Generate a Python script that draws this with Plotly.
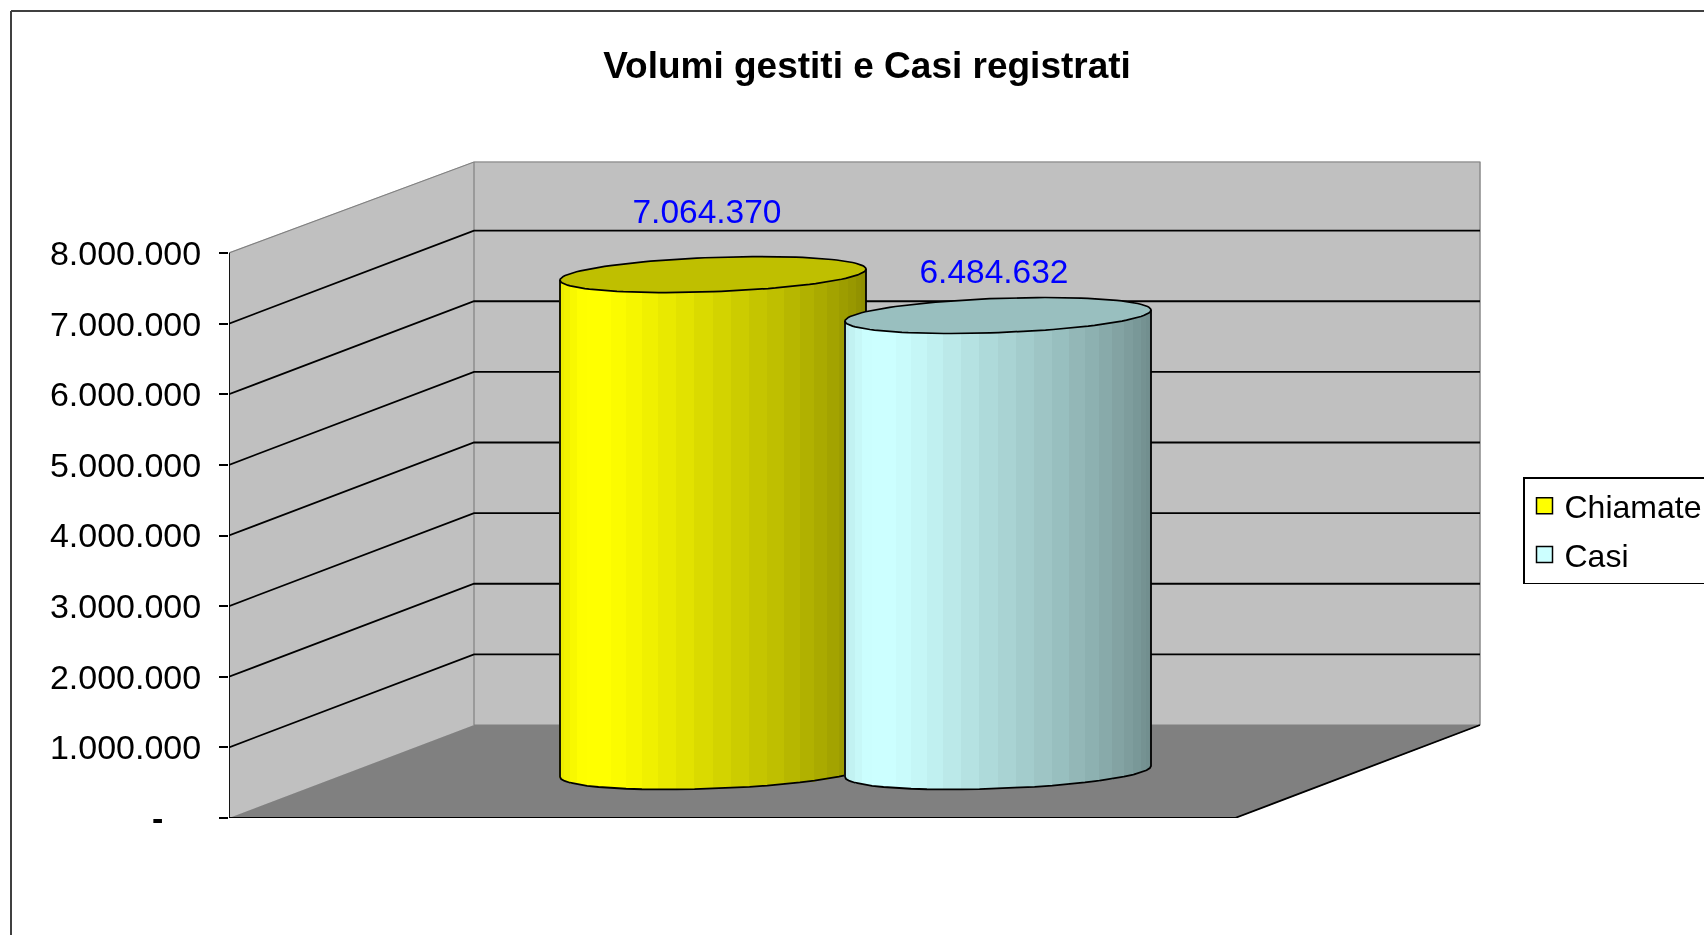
import numpy as np
import plotly.graph_objects as go

# ---- data ----
series_names = ["Chiamate", "Casi"]
series_values = [7064370, 6484632]
axis_ticks = [0, 1000000, 2000000, 3000000, 4000000, 5000000, 6000000, 7000000, 8000000]
chart_title = "Volumi gestiti e Casi registrati"

# ---- style / layout ----
series_colors = [(255, 255, 0), (204, 255, 255)]
FIG_W, FIG_H = 1704, 935
M_L, M_R, M_T, M_B = 229, 204, 150, 117
PLOT_W, PLOT_H = FIG_W - M_L - M_R, FIG_H - M_T - M_B
FONT = "Liberation Sans, Arial, sans-serif"
PX_PER_UNIT = 565 / 8000000
YMAX = PLOT_H / PX_PER_UNIT
DEPTH_X = 245
DEPTH_Y = 93 / PX_PER_UNIT
FLOOR_W = 1006
AX_MAX = axis_ticks[-1]
WALL_TOP_TRIM = 2 / PX_PER_UNIT
TOP_SHIFT = -2 / PX_PER_UNIT
CYL_CX = [484, 769]
CYL_U, CYL_VX = 145.6, 47
CYL_VY = 18 / PX_PER_UNIT
LABEL_DX = [-6, -4]
LABEL_DY = [814000, 544000]
N_STRIPS = 26
SHADE_T = [0, 0.04, 0.08, 0.16, 0.3, 0.5, 0.7, 0.85, 0.95, 1.0]
SHADE_F = [0.92, 0.97, 1.0, 1.0, 0.94, 0.84, 0.75, 0.67, 0.6, 0.55]
CAP_F = 0.75
INK = "#000000"


def rgb(c, f=1.0):
    return "rgb({},{},{})".format(*[int(round(v * f)) for v in c])


def fmt(v):
    return f"{v:,}".replace(",", ".")


def poly(xs, ys, fill, line=None, lw=1.0, z=0):
    return go.Scatter(x=xs, y=ys, mode="lines", fill="toself", fillcolor=fill,
                      line=dict(color=line or fill, width=lw), hoverinfo="skip",
                      showlegend=False, cliponaxis=False, zorder=z)


def path(xs, ys, color, lw, z=0):
    return go.Scatter(x=xs, y=ys, mode="lines", line=dict(color=color, width=lw),
                      hoverinfo="skip", showlegend=False, cliponaxis=False,
                      connectgaps=False, zorder=z)


fig = go.Figure()

WALL_TOP_BACK = AX_MAX + DEPTH_Y - WALL_TOP_TRIM

# walls and floor
fig.add_trace(poly([0, DEPTH_X, DEPTH_X, 0], [0, DEPTH_Y, WALL_TOP_BACK, AX_MAX], "#C0C0C0"))
fig.add_trace(poly([DEPTH_X, DEPTH_X + FLOOR_W, DEPTH_X + FLOOR_W, DEPTH_X],
                   [DEPTH_Y, DEPTH_Y, WALL_TOP_BACK, WALL_TOP_BACK], "#C0C0C0"))
fig.add_trace(poly([0, FLOOR_W, FLOOR_W + DEPTH_X, DEPTH_X], [0, 0, DEPTH_Y, DEPTH_Y], "#808080"))

# grey wall edges
fig.add_trace(path([0, DEPTH_X, DEPTH_X + FLOOR_W, DEPTH_X + FLOOR_W, None, DEPTH_X, DEPTH_X],
                   [AX_MAX, WALL_TOP_BACK, WALL_TOP_BACK, DEPTH_Y, None, WALL_TOP_BACK, DEPTH_Y],
                   "#808080", 1.2))

# gridlines
gx, gy = [], []
for t in axis_ticks[1:-1]:
    gx += [0, DEPTH_X, DEPTH_X + FLOOR_W, None]
    gy += [t, t + DEPTH_Y, t + DEPTH_Y, None]
fig.add_trace(path(gx, gy, INK, 1.8))

# floor edge and value axis
fig.add_trace(path([0, 0, None, 0, FLOOR_W, FLOOR_W + DEPTH_X],
                   [AX_MAX, 0, None, 0, 0, DEPTH_Y], INK, 1.8))

# cylinders
th0 = np.arctan2(CYL_VX, CYL_U)
for i, (name, val) in enumerate(zip(series_names, series_values)):
    cx = CYL_CX[i]
    col = series_colors[i]
    top = val + TOP_SHIFT
    th = np.linspace(th0 + np.pi, th0 + 2 * np.pi, N_STRIPS + 1)
    ex = cx + CYL_U * np.cos(th) + CYL_VX * np.sin(th)
    ey = CYL_VY * np.sin(th)
    left, right = ex[0], ex[-1]
    xc = (ex[:-1] + ex[1:]) / 2
    wd = np.diff(ex) + 0.6
    ym = (ey[:-1] + ey[1:]) / 2
    ytop = np.maximum(ey[:-1], ey[1:])
    base = DEPTH_Y / 2 + ym
    heights = top + (ytop - ym)
    shade = np.interp((xc - left) / (right - left), SHADE_T, SHADE_F)
    fig.add_trace(go.Bar(x=xc, y=heights, base=base, width=wd,
                         marker=dict(color=[rgb(col, s) for s in shade], line=dict(width=0)),
                         hoverinfo="skip", showlegend=False, zorder=10 * i + 1))
    # cap
    tc = np.linspace(0, 2 * np.pi, 121)
    capx = cx + CYL_U * np.cos(tc) + CYL_VX * np.sin(tc)
    capy = top + DEPTH_Y / 2 + CYL_VY * np.sin(tc)
    fig.add_trace(poly(capx, capy, rgb(col, CAP_F), INK, 1.7, z=10 * i + 2))
    # silhouette
    sx = [ex[0]] + list(ex) + [ex[-1]]
    sy = [top + DEPTH_Y / 2 + ey[0]] + list(DEPTH_Y / 2 + ey) + [top + DEPTH_Y / 2 + ey[-1]]
    fig.add_trace(path(sx, sy, INK, 1.8, z=10 * i + 2))
    # value label
    fig.add_trace(go.Scatter(x=[cx + LABEL_DX[i]], y=[val + DEPTH_Y / 2 + LABEL_DY[i]],
                             mode="text", text=[fmt(val)], textposition="middle center",
                             textfont=dict(family=FONT, size=33.5, color="#0000FF"),
                             hoverinfo="skip", showlegend=False, cliponaxis=False, zorder=50))
    # legend entry
    fig.add_trace(go.Scatter(x=[None], y=[None], mode="markers", name=name, legendgroup=name,
                             marker=dict(symbol="square", size=17, color=rgb(col),
                                         line=dict(color=INK, width=1.5))))

tick_text = [fmt(t) if t else "<b>-</b>\u00a0\u00a0\u00a0\u00a0" for t in axis_ticks]


def px_x(p):
    return (p - M_L) / PLOT_W


def px_y(p):
    return (FIG_H - M_B - p) / PLOT_H


fig.update_layout(
    width=FIG_W, height=FIG_H,
    margin=dict(l=M_L, r=M_R, t=M_T, b=M_B, pad=0, autoexpand=False),
    paper_bgcolor="white", plot_bgcolor="white",
    barmode="overlay", bargap=0,
    font=dict(family=FONT, color=INK),
    title=dict(text=f"<b>{chart_title}</b>", x=867 / FIG_W, xref="container", xanchor="center",
               y=1 - 65 / FIG_H, yref="container", yanchor="middle",
               font=dict(family=FONT, size=37, color=INK)),
    xaxis=dict(range=[0, PLOT_W], visible=False, fixedrange=True),
    yaxis=dict(range=[0, YMAX], tickmode="array", tickvals=axis_ticks, ticktext=tick_text,
               ticks="outside", ticklen=9, tickwidth=1.8, tickcolor=INK,
               showgrid=False, zeroline=False, showline=False, fixedrange=True,
               ticklabelstandoff=11,
               tickfont=dict(family=FONT, size=34, color=INK)),
    legend=dict(x=px_x(1523), y=px_y(477), xanchor="left", yanchor="top",
                bgcolor="white", bordercolor=INK, borderwidth=1.5,
                font=dict(family=FONT, size=32, color=INK),
                traceorder="grouped", tracegroupgap=4, itemsizing="trace",
                itemclick=False, itemdoubleclick=False),
    shapes=[
        dict(type="line", xref="paper", yref="paper", x0=px_x(11), y0=px_y(11), x1=px_x(1710), y1=px_y(11),
             line=dict(color="#404040", width=2)),
        dict(type="line", xref="paper", yref="paper", x0=px_x(11), y0=px_y(11), x1=px_x(11), y1=px_y(940),
             line=dict(color="#404040", width=2)),
    ],
)

fig.write_html("out.html", config=dict(displayModeBar=False, responsive=False),
               post_script="document.body.style.margin='0';document.body.style.overflow='hidden';"
                           "document.querySelector('.plotly-graph-div').style.filter='blur(0.45px)';")
